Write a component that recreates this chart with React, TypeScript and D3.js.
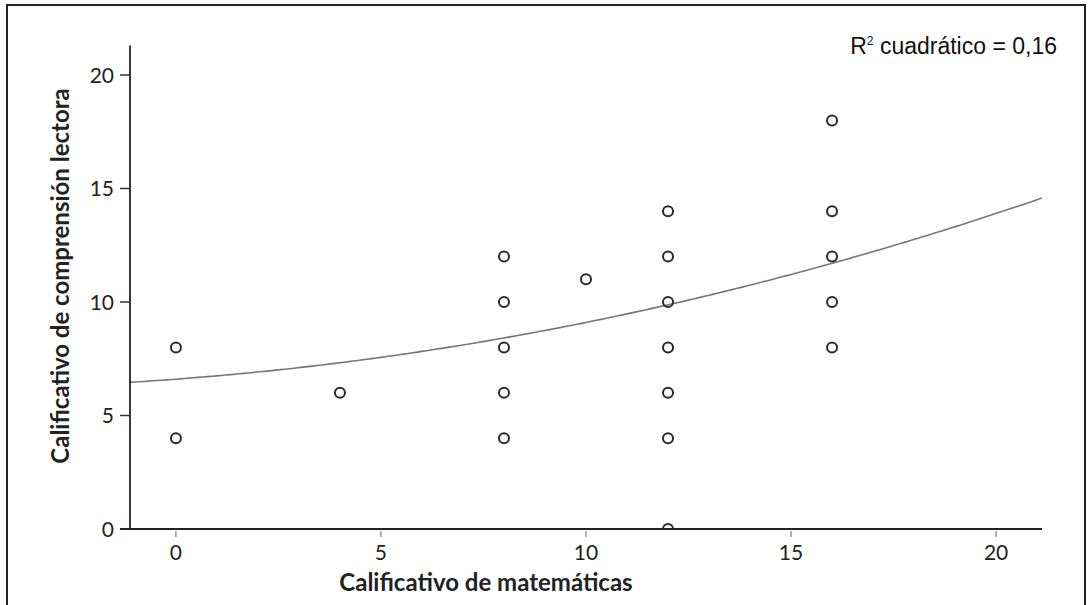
import React from "react";
import * as d3 from "d3";

// Data: (matemáticas, comprensión lectora)
const mathScores = [0, 0, 4, 8, 8, 8, 8, 8, 10, 12, 12, 12, 12, 12, 12, 12, 16, 16, 16, 16, 16];
const readingScores = [8, 4, 6, 12, 10, 8, 6, 4, 11, 14, 12, 10, 8, 6, 4, 0, 18, 14, 12, 10, 8];
// Quadratic fit coefficients (a + b x + c x^2)
const fitCoefs = [6.6, 0.135, 0.0115];
const xTicks = [0, 5, 10, 15, 20];
const yTicks = [0, 5, 10, 15, 20];
const xDomain = [-1.12, 21.12];
const yDomain = [0, 20];
const yAxisTop = 21.3;
const r2Label = "0,16";

const W = 1091;
const H = 605;

export default function App() {
  const x = d3.scaleLinear().domain(xDomain).range([130, 1042]);
  const y = d3.scaleLinear().domain(yDomain).range([529, 75]);
  const fit = (v: number) => fitCoefs[0] + fitCoefs[1] * v + fitCoefs[2] * v * v;
  const curveXs = d3.range(0, 201).map((i) => xDomain[0] + ((xDomain[1] - xDomain[0]) * i) / 200);
  const line = d3
    .line<number>()
    .x((d) => x(d))
    .y((d) => y(fit(d)))
    .curve(d3.curveLinear);
  const font = "Lato, 'Open Sans', sans-serif";
  return (
    <svg
      width={W}
      height={H}
      style={{ position: "absolute", left: 0, top: 0, background: "#fff" }}
    >
      <defs>
        <clipPath id="plot">
          <rect x={x(xDomain[0])} y={0} width={x(xDomain[1]) - x(xDomain[0])} height={y(0) - 0.5} />
        </clipPath>
      </defs>
      <rect x={7} y={5} width={1078} height={640} fill="none" stroke="#222" strokeWidth={2} />

      {/* fit curve */}
      <path d={line(curveXs) || ""} fill="none" stroke="#777" strokeWidth={1.6} clipPath="url(#plot)" />

      {/* points */}
      <g clipPath="url(#plot)">
        {mathScores.map((m, i) => (
          <circle
            key={i}
            cx={x(m)}
            cy={y(readingScores[i])}
            r={5}
            fill="none"
            stroke="#2a2a2a"
            strokeWidth={2}
          />
        ))}
      </g>

      {/* y axis */}
      <line x1={x(xDomain[0])} x2={x(xDomain[0])} y1={y(yAxisTop)} y2={y(0)} stroke="#222" strokeWidth={1.8} />
      {yTicks.map((t) => (
        <g key={t}>
          <line x1={120} x2={x(xDomain[0])} y1={y(t)} y2={y(t)} stroke="#333" strokeWidth={1.5} />
          <text
            x={114}
            y={y(t)}
            dy="0.36em"
            textAnchor="end"
            fontFamily={font}
            fontSize={21}
            fill="#222"
          >
            {t}
          </text>
        </g>
      ))}

      {/* x axis */}
      <line x1={120} x2={x(xDomain[1])} y1={y(0)} y2={y(0)} stroke="#222" strokeWidth={1.8} />
      {xTicks.map((t) => (
        <g key={t}>
          <line x1={x(t)} x2={x(t)} y1={y(0) + 2} y2={y(0) + 8} stroke="#888" strokeWidth={1.3} />
          <text x={x(t)} y={560} textAnchor="middle" fontFamily={font} fontSize={21} fill="#222">
            {t}
          </text>
        </g>
      ))}

      {/* axis titles */}
      <text x={486} y={591} textAnchor="middle" fontFamily={font} fontWeight={700} fontSize={24} fill="#222">
        Calificativo de matemáticas
      </text>
      <text
        transform={`translate(69, 276) rotate(-90)`}
        textAnchor="middle"
        fontFamily={font}
        fontWeight={700}
        fontSize={24}
        fill="#222"
      >
        Calificativo de comprensión lectora
      </text>

      {/* R² annotation */}
      <text x={1057} y={54} textAnchor="end" fontFamily="'Liberation Sans', Arial, sans-serif" fontSize={23} fill="#111">
        R<tspan dy={-9} fontSize={12}>2</tspan>
        <tspan dy={9}> cuadrático = {r2Label}</tspan>
      </text>
    </svg>
  );
}
